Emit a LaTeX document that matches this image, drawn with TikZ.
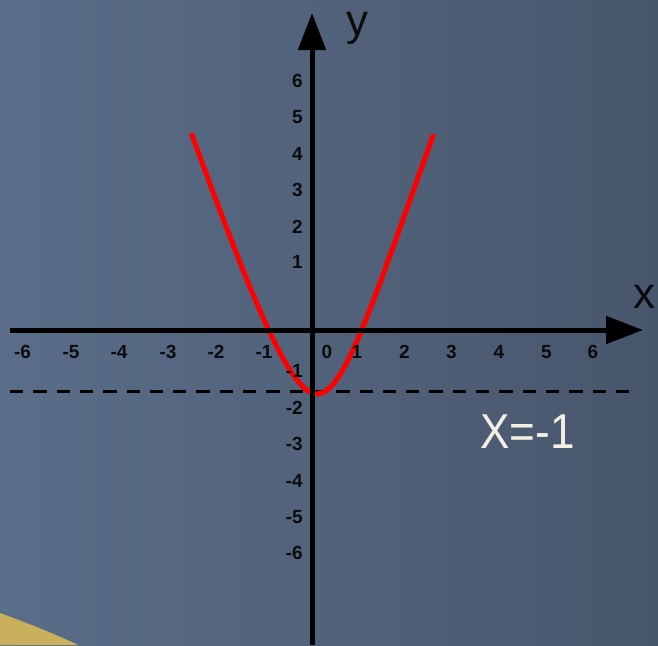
\documentclass[tikz,border=0pt]{standalone}
\usepackage{fontspec}
\setmainfont{Liberation Sans}
\usetikzlibrary{arrows.meta}
\definecolor{bgL}{RGB}{90,110,137}
\definecolor{bgR}{RGB}{72,86,107}
\definecolor{sand}{RGB}{201,176,92}
\definecolor{chalk}{RGB}{242,240,228}
\definecolor{ink}{RGB}{12,12,12}
\tikzset{
  axisline/.style={line width=5pt, draw=black, -{Triangle[length=37pt,width=27pt]}},
  ticklab/.style={font=\fontsize{19}{19}\selectfont\bfseries, text=ink, inner sep=0pt},
  ylab/.style={ticklab, anchor=east},
  axname/.style={font=\fontsize{44}{44}\selectfont, text=ink, inner sep=0pt, anchor=base},
  curve/.style={line width=5pt, draw=red, line cap=round},
  asym/.style={line width=3pt, draw=black, dash pattern=on 13.3pt off 10pt}
}
\begin{document}
\begin{tikzpicture}[x=1pt,y=-1pt]
\useasboundingbox (0,0) rectangle (658,645);
\shade[left color=bgL, right color=bgR] (0,0) rectangle (658,645);
\fill[sand] (0,613) .. controls (30,624) and (55,634) .. (78,645) -- (0,645) -- cycle;
% dashed line
\coordinate (ds) at (10,391);
\coordinate (de) at (630,391);
\draw[asym] (ds) -- (de);
% curve
\coordinate (cl) at (192,135);
\coordinate (cv) at (317,394);
\coordinate (cr) at (433,136);
\draw[curve] (cl) .. controls (255.6,309) and (291,394) .. (cv)
             .. controls (344,394) and (370.6,308.8) .. (cr);
% axes
\coordinate (xs) at (10,330);
\coordinate (xe) at (643,330);
\coordinate (ys) at (312,645);
\coordinate (ye) at (312,13);
\draw[axisline] (xs) -- (xe);
\draw[axisline] (ys) -- (ye);
% x tick labels
\foreach \v/\px in {-6/22.5,-5/71,-4/119,-3/168,-2/216,-1/264,0/327,1/357,2/404.5,3/451.5,4/499,5/546.5,6/593}
  \node[ticklab] (xt\v) at (\px,352) {\v};
% y tick labels
\foreach \v/\py in {6/80.5,5/117.5,4/154,3/189.5,2/226.5,1/262,-1/371,-2/407.5,-3/444,-4/480.5,-5/517,-6/553}
  \node[ylab] (yt\v) at (303,\py) {\v};
% axis names
\node[axname] (yname) at (357,35) {y};
\node[axname] (xname) at (644,308) {x};
\node[font=\fontsize{49}{49}\selectfont, text=chalk, inner sep=0pt, anchor=base west, xscale=0.9] (eq) at (480,448) {X=-1};
\end{tikzpicture}
\end{document}
